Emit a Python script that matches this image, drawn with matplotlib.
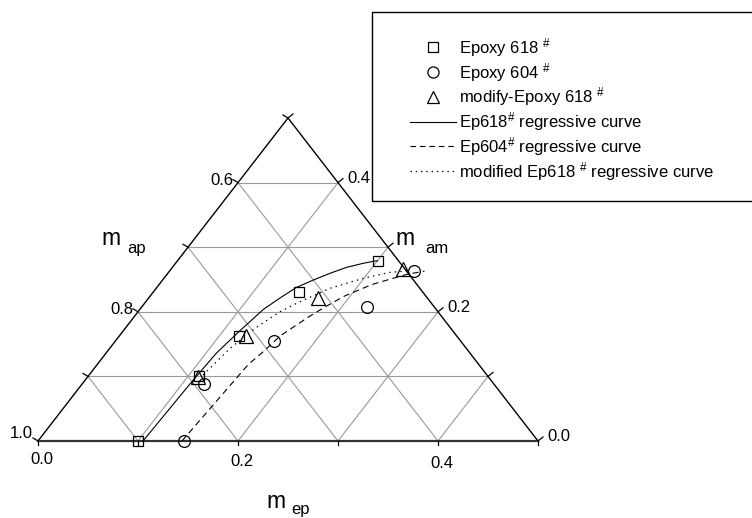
import numpy as np
import matplotlib
matplotlib.use('Agg')
import matplotlib.pyplot as plt
from matplotlib.lines import Line2D
from matplotlib.patches import Rectangle

plt.rcParams['font.family'] = 'Liberation Sans'
plt.rcParams['mathtext.fontset'] = 'custom'
plt.rcParams['mathtext.rm'] = 'Liberation Sans'
plt.rcParams['mathtext.default'] = 'regular'
plt.rcParams['lines.scale_dashes'] = False

# compositions as (m_ep, m_am); m_ap = 1 - m_ep - m_am
ep618_ep = [0.100, 0.110, 0.119, 0.146, 0.200]
ep618_am = [0.000, 0.101, 0.163, 0.230, 0.279]

ep604_ep = [0.146, 0.122, 0.158, 0.225, 0.244]
ep604_am = [0.000, 0.089, 0.155, 0.208, 0.263]

mod618_ep = [0.1105, 0.127, 0.169, 0.231]
mod618_am = [0.0995, 0.162, 0.222, 0.267]

# regressive curves
curve618_ep = [0.105, 0.108, 0.1104, 0.1163, 0.1235, 0.1313, 0.1397,
               0.1507, 0.1622, 0.1743, 0.1878, 0.1977, 0.200]
curve618_am = [0.000, 0.094, 0.1362, 0.1695, 0.2036, 0.2214, 0.2379,
               0.2492, 0.2596, 0.2689, 0.2751, 0.2786, 0.279]

curve604_ep = [0.144, 0.151, 0.156, 0.161, 0.1745, 0.183, 0.194, 0.2125,
               0.2267, 0.240, 0.255]
curve604_am = [0.000, 0.118, 0.138, 0.163, 0.192, 0.207, 0.224, 0.242,
               0.2505, 0.258, 0.263]

curvemod_ep = [0.114, 0.1203, 0.1298, 0.1419, 0.1521, 0.1738, 0.1994, 0.221, 0.237]
curvemod_am = [0.102, 0.1435, 0.1745, 0.2002, 0.2132, 0.2364, 0.2519, 0.261, 0.263]

grid_vals = [0.1, 0.2, 0.3, 0.4]
tick_vals = [0.0, 0.1, 0.2, 0.3, 0.4, 0.5]
ep_labels = ['0.0', '0.2', '0.4']
ap_labels = ['1.0', '0.8', '0.6']
am_labels = ['0.0', '0.2', '0.4']

legend_labels = ['Epoxy 618 $^{\\#}$', 'Epoxy 604 $^{\\#}$', 'modify-Epoxy 618 $^{\\#}$',
                 'Ep618$^{\\#}$ regressive curve', 'Ep604$^{\\#}$ regressive curve',
                 'modified Ep618 $^{\\#}$ regressive curve']

# triangle is 500 px wide and 323 px tall, bottom-left corner at pixel (38, 441)
W, H = 500.0, 323.0


def tern(ep, am):
    ep = np.asarray(ep, dtype=float)
    am = np.asarray(am, dtype=float)
    return 2 * ep + am, 2 * am


def nudge(x, y, dx, dy):
    # shift by screen pixels (dy positive = downwards)
    return x + dx / W, y - dy / H


def pix(px, py):
    return (px - 38) / W, (441 - py) / H


fig = plt.figure(figsize=(7.52, 5.18), dpi=100)
ax = fig.add_axes([0, 0, 1, 1])
ax.set_xlim(-38 / W, 714 / W)
ax.set_ylim(-77 / H, 441 / H)
ax.axis('off')

grey = '#9a9a9a'
for v in grid_vals:
    # constant m_am
    x, y = tern([0, 0.5 - v], [v, v])
    ax.plot(x, y, color=grey, lw=0.8, zorder=1)
    # constant m_ep
    x, y = tern([v, v], [0, 0.5 - v])
    ax.plot(x, y, color=grey, lw=0.8, zorder=1)
    # constant m_ap
    x, y = tern([0, v], [v, 0])
    ax.plot(x, y, color=grey, lw=0.8, zorder=1)

# frame of the triangle
x, y = tern([0, 0.5, 0, 0], [0, 0, 0.5, 0])
ax.plot(x, y, color='black', lw=1.0, zorder=2)
x, y = tern([0, 0.5], [0, 0])
ax.plot(x, y, color='#333333', lw=1.6, zorder=2)

# ticks
for v in tick_vals:
    x, y = tern(v, 0)
    x2, y2 = nudge(x, y, 0, 4)
    ax.plot([x, x2], [y, y2], color='black', lw=0.9)
    x, y = tern(0, v)
    x2, y2 = nudge(x, y, -5, -3)
    ax.plot([x, x2], [y, y2], color='black', lw=0.9)
    x, y = tern(0.5 - v, v)
    x2, y2 = nudge(x, y, 5, -4)
    ax.plot([x, x2], [y, y2], color='black', lw=0.9)

fs = 12
for i, lab in enumerate(ep_labels):
    v = 0.2 * i
    x, y = tern(v, 0)
    tx, ty = nudge(x, y, 4, 23 + 2 * i)
    ax.text(tx, ty, lab, ha='center', va='baseline', fontsize=fs)
for i, lab in enumerate(ap_labels):
    v = 0.2 * i
    x, y = tern(0, v)
    tx, ty = nudge(x, y, -5, 2 if i else -3)
    ax.text(tx, ty, lab, ha='right', va='baseline', fontsize=fs)
for i, lab in enumerate(am_labels):
    v = 0.2 * i
    x, y = tern(0.5 - v, v)
    tx, ty = nudge(x, y, 9, 0)
    ax.text(tx, ty, lab, ha='left', va='baseline', fontsize=fs)

# axis titles
for (px, py), (sx, sy), sub in [((101, 245), (127, 253.5), 'ap'),
                                ((395, 245), (425, 253), 'am'),
                                ((266, 508), (291, 514), 'ep')]:
    ax.text(*pix(px, py), 'm', fontsize=16.5, ha='left', va='baseline')
    ax.text(*pix(sx, sy), sub, fontsize=12, ha='left', va='baseline')

# curves
x, y = tern(curve618_ep, curve618_am)
ax.plot(x, y, color='black', lw=0.8, ls='-', zorder=3)
x, y = tern(curve604_ep, curve604_am)
ax.plot(x, y, color='black', lw=0.8, ls=(0, (4.5, 3)), zorder=3)
x, y = tern(curvemod_ep, curvemod_am)
ax.plot(x, y, color='black', lw=0.9, ls=(0, (1, 3)), zorder=3)

mk = dict(ls='none', mfc='none', mec='black', mew=0.9, zorder=4)
x, y = tern(ep618_ep, ep618_am)
ax.plot(x, y, marker='s', ms=7.5, **mk)
x, y = tern(ep604_ep, ep604_am)
ax.plot(x, y, marker='o', ms=8.5, **mk)
x, y = tern(mod618_ep, mod618_am)
ax.plot(x, y, marker='^', ms=9.5, **mk)

# legend
handles = [Line2D([], [], marker='s', ms=7.5, **mk),
           Line2D([], [], marker='o', ms=8, **mk),
           Line2D([], [], marker='^', ms=9, **mk),
           Line2D([], [], color='black', lw=0.8, ls='-'),
           Line2D([], [], color='black', lw=0.8, ls=(0, (4, 2.8))),
           Line2D([], [], color='black', lw=0.9, ls=(0, (1, 2.8)))]
fig.legend(handles, legend_labels, loc='upper left',
           bbox_to_anchor=(410 / 752, 1 - 36 / 518), frameon=False,
           fontsize=fs, handlelength=2.76, handletextpad=0.2,
           labelspacing=0.11, borderpad=0, borderaxespad=0)
fig.add_artist(Rectangle((372 / 752, 1 - 201 / 518), 400 / 752, 189 / 518,
                         transform=fig.transFigure, fill=False,
                         edgecolor='black', lw=1.0))

fig.savefig('out.png', dpi=100)
